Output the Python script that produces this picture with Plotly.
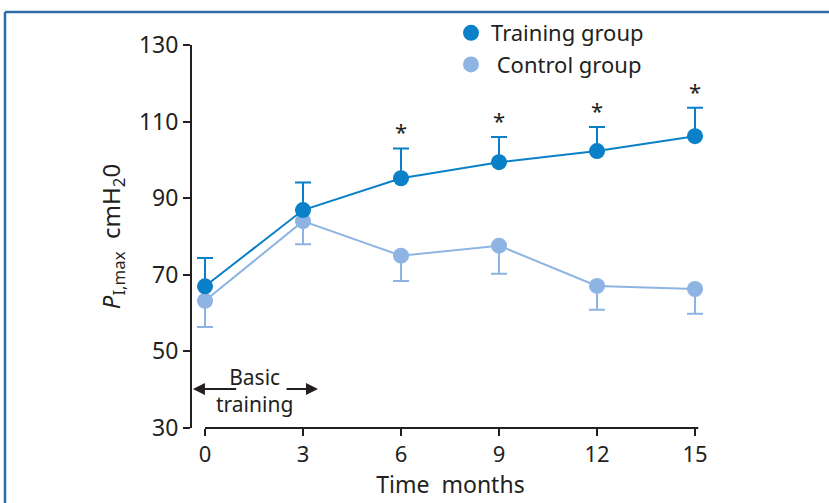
import plotly.graph_objects as go

months = [0, 3, 6, 9, 12, 15]
training = [67.0, 86.9, 95.2, 99.4, 102.3, 106.2]
training_err = [7.4, 7.2, 7.8, 6.6, 6.3, 7.4]
control = [63.2, 84.0, 75.0, 77.6, 67.1, 66.3]
control_err = [6.8, 6.0, 6.6, 7.3, 6.2, 6.5]
sig_months = [6, 9, 12, 15]
y_ticks = [30, 50, 70, 90, 110, 130]
x_ticks = [0, 3, 6, 9, 12, 15]

C_TRAIN = "#0a80c8"
C_CTRL = "#8db4e2"
TXT = "#231f20"
FONT = "Noto Sans"

W, H = 829, 503
L, R, T, B = 191, 119, 45, 75
pw, ph = W - L - R, H - T - B

fig = go.Figure()
fig.add_trace(go.Scatter(
    x=months, y=control, mode="lines+markers", showlegend=False,
    line=dict(color=C_CTRL, width=2), marker=dict(color=C_CTRL, size=16),
    error_y=dict(type="data", symmetric=False, array=[0] * len(control),
                 arrayminus=control_err, color=C_CTRL, thickness=2, width=8),
    cliponaxis=False))
fig.add_trace(go.Scatter(
    x=months, y=training, mode="lines+markers", showlegend=False,
    line=dict(color=C_TRAIN, width=2), marker=dict(color=C_TRAIN, size=16),
    error_y=dict(type="data", symmetric=False, array=training_err,
                 arrayminus=[0] * len(training), color=C_TRAIN, thickness=2, width=8),
    cliponaxis=False))
# legend-only traces
fig.add_trace(go.Scatter(x=[None], y=[None], mode="markers", name="Training group",
                         marker=dict(color=C_TRAIN, size=16)))
fig.add_trace(go.Scatter(x=[None], y=[None], mode="markers", name=" Control group",
                         marker=dict(color=C_CTRL, size=16)))

# asterisks
for m in sig_months:
    i = months.index(m)
    fig.add_annotation(x=m, y=training[i] + training_err[i], text="*", showarrow=False,
                       xref="x", yref="y", yanchor="bottom", yshift=0,
                       font=dict(family=FONT, size=22, color=TXT))

# Basic training label with arrows
fig.add_annotation(x=1.5, y=39.7, text="Basic<br>training", showarrow=False,
                   font=dict(family=FONT, size=21, color=TXT), xref="x", yref="y")
fig.add_annotation(x=-0.37, y=40.2, ax=1.0, ay=40.2, axref="x", ayref="y",
                   xref="x", yref="y", text="", showarrow=True, arrowhead=2,
                   arrowsize=1.2, arrowwidth=2, arrowcolor=TXT)
fig.add_annotation(x=3.46, y=40.2, ax=2.45, ay=40.2, axref="x", ayref="y",
                   xref="x", yref="y", text="", showarrow=True, arrowhead=2,
                   arrowsize=1.2, arrowwidth=2, arrowcolor=TXT)

# axis lines
fig.add_shape(type="line", xref="paper", yref="y", x0=0, x1=0, y0=30, y1=130,
              line=dict(color=TXT, width=2))
fig.add_shape(type="line", xref="x", yref="paper", x0=0, x1=15.1, y0=0, y1=0,
              line=dict(color=TXT, width=2))

# outer frame (top and left edges)
fx = (5 - L) / pw
fy = 1 + (T - 12) / ph
fig.add_shape(type="line", xref="paper", yref="paper", x0=fx, x1=(W + 10 - L) / pw,
              y0=fy, y1=fy, line=dict(color="#2e6ca8", width=2.5))
fig.add_shape(type="line", xref="paper", yref="paper", x0=fx, x1=fx,
              y0=fy, y1=-(B + 10) / ph, line=dict(color="#2e6ca8", width=2.5))

x0_px = 205
x15_px = 695
ppm = (x15_px - x0_px) / 15
xmin = -(x0_px - L) / ppm
xmax = 15 + (W - R - x15_px) / ppm

fig.update_layout(
    width=W, height=H,
    margin=dict(l=L, r=R, t=T, b=B),
    paper_bgcolor="white", plot_bgcolor="white",
    font=dict(family=FONT, color=TXT, size=20),
    hovermode=False,
    xaxis=dict(range=[xmin, xmax], tickvals=x_ticks, ticks="outside", ticklen=7,
               tickwidth=2, tickcolor=TXT, showline=False, showgrid=False, zeroline=False,
               tickfont=dict(size=22), title=dict(text="Time  months", font=dict(size=23), standoff=3)),
    yaxis=dict(range=[30, 130], tickvals=y_ticks, ticks="outside", ticklen=7,
               tickwidth=2, tickcolor=TXT, showline=False, showgrid=False, zeroline=False,
               tickfont=dict(size=23),
               title=dict(text="<i>P</i><sub>I,max</sub>  cmH<sub>2</sub>0", font=dict(size=24), standoff=11)),
    legend=dict(x=(451 - L) / pw, y=1 + (T - 12) / ph, xanchor="left", yanchor="top",
                font=dict(size=22), bgcolor="rgba(0,0,0,0)", tracegroupgap=0),
)

fig.write_html("out.html", config={"displayModeBar": False, "staticPlot": True},
               post_script="document.body.style.margin='0';document.body.style.padding='0';document.documentElement.style.overflow='hidden';")
